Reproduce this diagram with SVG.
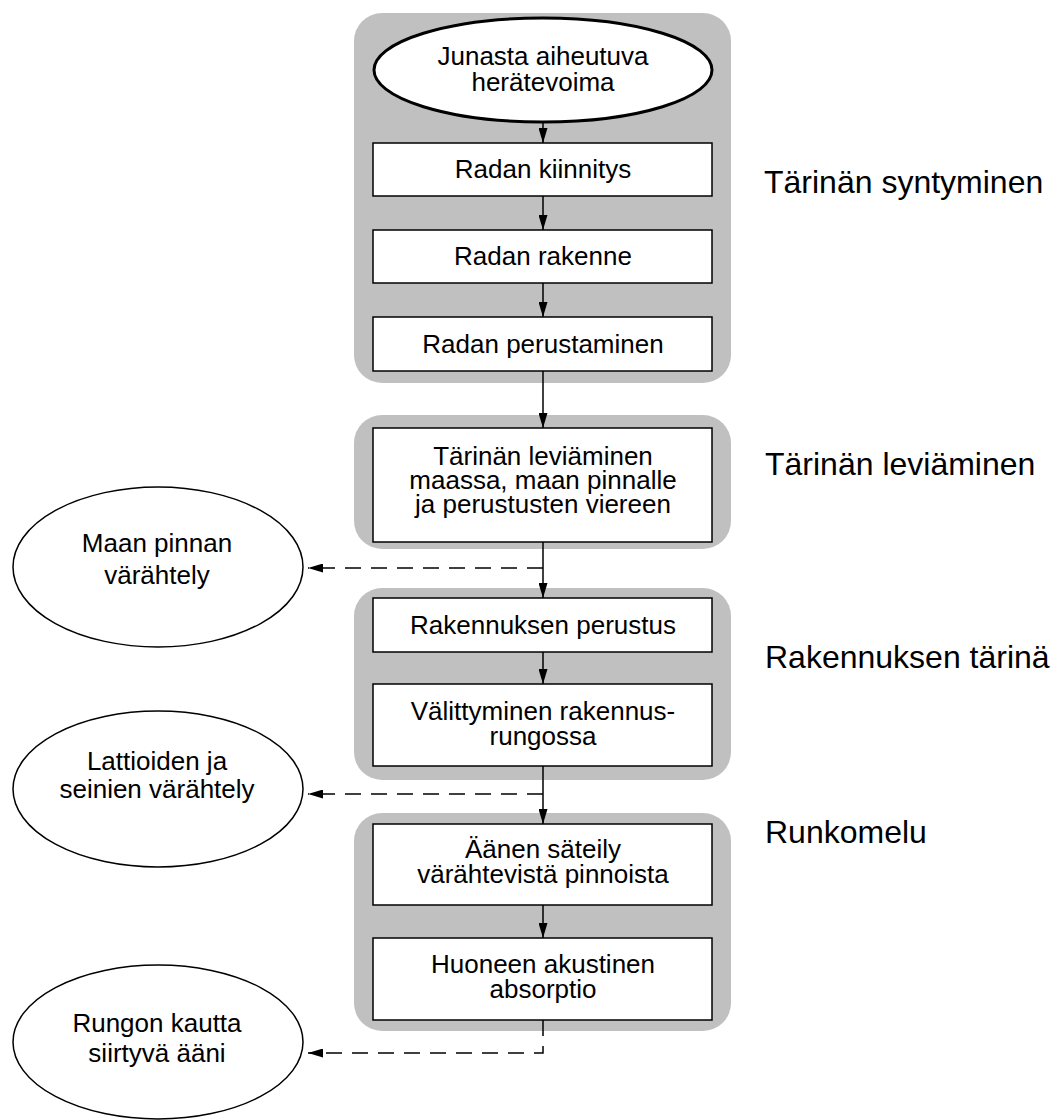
<svg xmlns="http://www.w3.org/2000/svg" width="1051" height="1120" viewBox="0 0 1051 1120">
  <style>
    text { font-family: "Liberation Sans", Arial, sans-serif; fill: #000; }
    .panel { fill: #c0c0c0; stroke: none; }
    .box { fill: #fff; stroke: #000; stroke-width: 1.5; }
    .start { fill: #fff; stroke: #000; stroke-width: 3; }
    .out { fill: #fff; stroke: #000; stroke-width: 1.5; }
    .t { font-size: 26px; text-anchor: middle; }
    .stage { font-size: 32px; }
    .flow { fill: none; stroke: #000; stroke-width: 1.5; }
    .branch { fill: none; stroke: #000; stroke-width: 1.5; stroke-dasharray: 16 10; }
  </style>
  <defs>
    <marker id="head" viewBox="0 0 15 9" refX="15" refY="4.5" markerWidth="15" markerHeight="9" markerUnits="userSpaceOnUse" orient="auto">
      <path d="M0,0 L15,4.5 L0,9 z" fill="#000"/>
    </marker>
  </defs>

  <rect width="1051" height="1120" fill="#fff"/>

  <!-- grey stage panels -->
  <g id="panels">
    <rect class="panel" x="354" y="13" width="377" height="370" rx="28" ry="28"/>
    <rect class="panel" x="354" y="415" width="377" height="134" rx="28" ry="28"/>
    <rect class="panel" x="354" y="588" width="377" height="192" rx="28" ry="28"/>
    <rect class="panel" x="354" y="813" width="377" height="218" rx="28" ry="28"/>
  </g>

  <!-- connectors -->
  <g id="connectors">
    <path class="flow" d="M543,122 V143" marker-end="url(#head)"/>
    <path class="flow" d="M543,196 V230" marker-end="url(#head)"/>
    <path class="flow" d="M543,283 V317" marker-end="url(#head)"/>
    <path class="flow" d="M543,371 V428" marker-end="url(#head)"/>
    <path class="flow" d="M543,542 V598" marker-end="url(#head)"/>
    <path class="flow" d="M543,652 V684" marker-end="url(#head)"/>
    <path class="flow" d="M543,766 V824" marker-end="url(#head)"/>
    <path class="flow" d="M543,905 V938" marker-end="url(#head)"/>
    <path class="branch" d="M543,568 H308" marker-end="url(#head)"/>
    <path class="branch" d="M543,794 H308" marker-end="url(#head)"/>
    <path class="branch" d="M543,1020 V1053 H308" marker-end="url(#head)"/>
  </g>

  <g id="start">
    <ellipse class="start" cx="543" cy="70" rx="169" ry="52"/>
    <text class="t" x="543" y="65">Junasta aiheutuva</text>
    <text class="t" x="543" y="91">herätevoima</text>
  </g>

  <g id="box-kiinnitys">
    <rect class="box" x="373" y="143" width="339" height="53"/>
    <text class="t" x="543" y="178">Radan kiinnitys</text>
  </g>

  <g id="box-rakenne">
    <rect class="box" x="373" y="230" width="339" height="53"/>
    <text class="t" x="543" y="265">Radan rakenne</text>
  </g>

  <g id="box-perustaminen">
    <rect class="box" x="373" y="317" width="339" height="54"/>
    <text class="t" x="543" y="353">Radan perustaminen</text>
  </g>

  <g id="box-leviaminen">
    <rect class="box" x="373" y="428" width="339" height="114"/>
    <text class="t" x="543" y="465">Tärinän leviäminen</text>
    <text class="t" x="543" y="489">maassa, maan pinnalle</text>
    <text class="t" x="543" y="513">ja perustusten viereen</text>
  </g>

  <g id="box-perustus">
    <rect class="box" x="373" y="598" width="339" height="54"/>
    <text class="t" x="543" y="634">Rakennuksen perustus</text>
  </g>

  <g id="box-valittyminen">
    <rect class="box" x="373" y="684" width="339" height="82"/>
    <text class="t" x="543" y="720">Välittyminen rakennus-</text>
    <text class="t" x="543" y="745">rungossa</text>
  </g>

  <g id="box-sateily">
    <rect class="box" x="373" y="824" width="339" height="81"/>
    <text class="t" x="543" y="858">Äänen säteily</text>
    <text class="t" x="543" y="883">värähtevistä pinnoista</text>
  </g>

  <g id="box-absorptio">
    <rect class="box" x="373" y="938" width="339" height="82"/>
    <text class="t" x="543" y="973">Huoneen akustinen</text>
    <text class="t" x="543" y="998">absorptio</text>
  </g>

  <g id="out-maa">
    <ellipse class="out" cx="158" cy="567" rx="145" ry="80"/>
    <text class="t" x="157" y="552">Maan pinnan</text>
    <text class="t" x="157" y="584">värähtely</text>
  </g>

  <g id="out-lattiat">
    <ellipse class="out" cx="158" cy="789" rx="145" ry="78"/>
    <text class="t" x="157" y="770">Lattioiden ja</text>
    <text class="t" x="157" y="798">seinien värähtely</text>
  </g>

  <g id="out-runkoaani">
    <ellipse class="out" cx="158" cy="1042" rx="145" ry="77"/>
    <text class="t" x="157" y="1032">Rungon kautta</text>
    <text class="t" x="157" y="1062">siirtyvä ääni</text>
  </g>

  <!-- stage labels -->
  <g id="stage-labels">
    <text class="stage" x="764" y="193">Tärinän syntyminen</text>
    <text class="stage" x="765" y="475">Tärinän leviäminen</text>
    <text class="stage" x="765" y="668">Rakennuksen tärinä</text>
    <text class="stage" x="765" y="843">Runkomelu</text>
  </g>
</svg>
